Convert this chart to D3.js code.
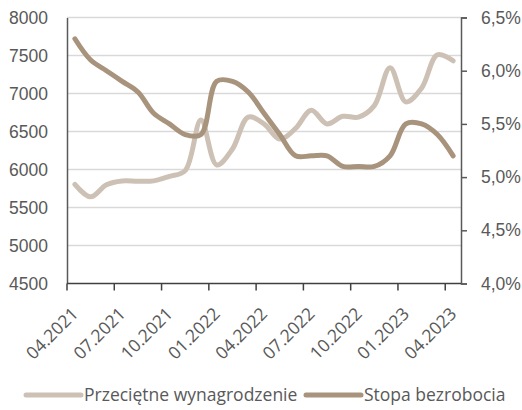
<!DOCTYPE html>
<html>
<head>
<meta charset="utf-8">
<title>Wynagrodzenie i stopa bezrobocia</title>
<style>
  html, body {
    margin: 0;
    padding: 0;
    background: #fff;
  }
  svg {
    display: block;
    font-family: "Open Sans", "Noto Sans", sans-serif;
  }
  .tick-label {
    font-size: 17.5px;
    fill: #595959;
  }
  .legend text {
    font-size: 17.5px;
    fill: #595959;
  }
</style>
</head>
<body>
<svg id="chart"></svg>

<script src="https://d3js.org/d3.v7.min.js"></script>
<script>
  // months 04.2021 .. 04.2023
  const months = [
    "04.2021", "05.2021", "06.2021", "07.2021", "08.2021", "09.2021", "10.2021", "11.2021", "12.2021",
    "01.2022", "02.2022", "03.2022", "04.2022", "05.2022", "06.2022", "07.2022", "08.2022", "09.2022",
    "10.2022", "11.2022", "12.2022", "01.2023", "02.2023", "03.2023", "04.2023"
  ];

  // average wage, PLN (left axis)
  const wages = [
    5805, 5640, 5800, 5850, 5845, 5850, 5910, 5985, 6650,
    6060, 6270, 6690, 6600, 6400, 6540, 6780, 6600, 6700,
    6690, 6840, 7340, 6890, 7070, 7510, 7430
  ];

  // unemployment rate, % (right axis)
  const unemployment = [
    6.3, 6.1, 6.0, 5.9, 5.8, 5.6, 5.5, 5.4, 5.4,
    5.9, 5.9, 5.8, 5.6, 5.4, 5.2, 5.2, 5.2, 5.1,
    5.1, 5.1, 5.2, 5.5, 5.5, 5.4, 5.2
  ];

  const leftTicks = [4500, 5000, 5500, 6000, 6500, 7000, 7500, 8000];
  const rightTicks = [4.0, 4.5, 5.0, 5.5, 6.0, 6.5];
  const xTickLabels = ["04.2021", "07.2021", "10.2021", "01.2022", "04.2022", "07.2022", "10.2022", "01.2023", "04.2023"];

  const seriesNames = ["Przeciętne wynagrodzenie", "Stopa bezrobocia"];
  const colors = ["#cdc1b5", "#a8937d"];

  const width = 522;
  const height = 410;
  const margin = { top: 17.5, right: 61, bottom: 126.5, left: 67 };

  const svg = d3.select("#chart")
    .attr("width", width)
    .attr("height", height);

  const x = d3.scaleBand()
    .domain(months)
    .range([margin.left, width - margin.right])
    .padding(0);

  const yLeft = d3.scaleLinear()
    .domain([4500, 8000])
    .range([height - margin.bottom, margin.top]);

  const yRight = d3.scaleLinear()
    .domain([4.0, 6.5])
    .range([height - margin.bottom, margin.top]);

  const cx = m => x(m) + x.bandwidth() / 2;

  // gridlines
  svg.append("g")
    .selectAll("line")
    .data(leftTicks.slice(1))
    .join("line")
    .attr("x1", margin.left)
    .attr("x2", width - margin.right)
    .attr("y1", d => yLeft(d))
    .attr("y2", d => yLeft(d))
    .attr("stroke", "#d9d9d9")
    .attr("stroke-width", 1.5);

  // left axis
  const leftAxis = svg.append("g")
    .attr("transform", `translate(${margin.left},0)`)
    .call(d3.axisLeft(yLeft).tickValues(leftTicks).tickSize(0).tickPadding(19).tickFormat(d3.format("d")));
  leftAxis.select(".domain").attr("stroke", "#595959").attr("stroke-width", 1.5);
  leftAxis.selectAll("text").attr("class", "tick-label").attr("font-family", null).attr("font-size", null).attr("fill", null);

  // right axis
  const fmtPct = d => d3.format(".1f")(d).replace(".", ",") + "%";
  const rightAxis = svg.append("g")
    .attr("transform", `translate(${width - margin.right},0)`)
    .call(d3.axisRight(yRight).tickValues(rightTicks).tickSize(6).tickPadding(14).tickFormat(fmtPct));
  rightAxis.select(".domain").attr("stroke", "#595959").attr("stroke-width", 1.5);
  rightAxis.selectAll(".tick line").attr("stroke", "#595959").attr("stroke-width", 1.5);
  rightAxis.selectAll("text").attr("class", "tick-label").attr("font-family", null).attr("font-size", null).attr("fill", null);

  // bottom axis: ticks between categories, every third month
  const bottomY = height - margin.bottom;
  const bottom = svg.append("g");
  bottom.append("line")
    .attr("x1", margin.left)
    .attr("x2", width - margin.right)
    .attr("y1", bottomY)
    .attr("y2", bottomY)
    .attr("stroke", "#404040")
    .attr("stroke-width", 1.5);
  bottom.selectAll(".xtick")
    .data(xTickLabels)
    .join("line")
    .attr("class", "xtick")
    .attr("x1", d => x(d))
    .attr("x2", d => x(d))
    .attr("y1", bottomY)
    .attr("y2", bottomY + 7)
    .attr("stroke", "#404040")
    .attr("stroke-width", 1.5);
  bottom.selectAll(".xlabel")
    .data(xTickLabels)
    .join("text")
    .attr("class", "tick-label xlabel")
    .attr("text-anchor", "end")
    .attr("dy", "0.35em")
    .attr("transform", d => `translate(${x(d) + 8},${bottomY + 27}) rotate(-45)`)
    .text(d => d);

  // lines
  const lineLeft = d3.line()
    .x((d, i) => cx(months[i]))
    .y(d => yLeft(d))
    .curve(d3.curveCatmullRom.alpha(0.5));

  const lineRight = d3.line()
    .x((d, i) => cx(months[i]))
    .y(d => yRight(d))
    .curve(d3.curveCatmullRom.alpha(0.5));

  svg.append("path")
    .datum(wages)
    .attr("d", lineLeft)
    .attr("fill", "none")
    .attr("stroke", colors[0])
    .attr("stroke-width", 5)
    .attr("stroke-linecap", "round")
    .attr("stroke-linejoin", "round");

  svg.append("path")
    .datum(unemployment)
    .attr("d", lineRight)
    .attr("fill", "none")
    .attr("stroke", colors[1])
    .attr("stroke-width", 5)
    .attr("stroke-linecap", "round")
    .attr("stroke-linejoin", "round");

  // legend
  const legend = svg.append("g").attr("class", "legend");
  const legendY = 395;
  const legendPos = [26, 306];
  seriesNames.forEach((name, i) => {
    const g = legend.append("g").attr("transform", `translate(${legendPos[i]},${legendY})`);
    g.append("line")
      .attr("x1", 0).attr("x2", 55)
      .attr("y1", 0).attr("y2", 0)
      .attr("stroke", colors[i])
      .attr("stroke-width", 5)
      .attr("stroke-linecap", "round");
    g.append("text")
      .attr("x", 58)
      .attr("dy", "0.35em")
      .text(name);
  });
</script>
</body>
</html>
